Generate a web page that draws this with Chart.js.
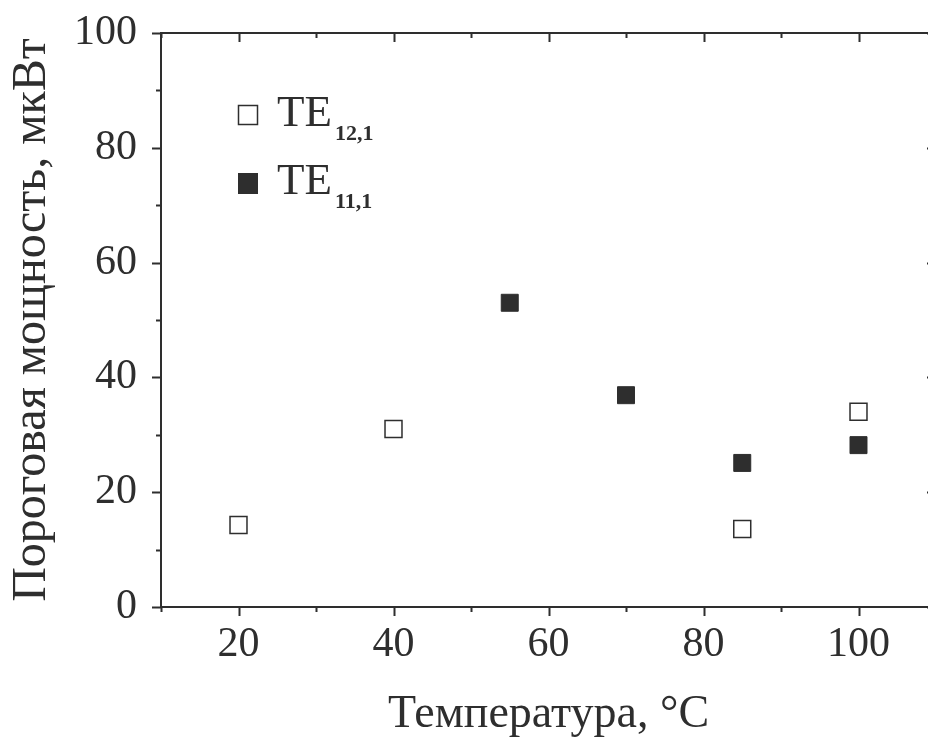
<!DOCTYPE html>
<html>
<head>
<meta charset="utf-8">
<title>Пороговая мощность</title>
<script src="https://cdn.jsdelivr.net/npm/chart.js@4.4.1/dist/chart.umd.min.js"></script>
<style>
    html, body { margin: 0; padding: 0; background: #fff; overflow: hidden; }
    #wrap { width: 928px; height: 740px; overflow: hidden; }
</style>
</head>
<body>
<div id="wrap">
    <canvas id="scatterChart" width="950" height="740"></canvas>
</div>
<script>
// Data
const seriesNames = ['TE', 'TE'];
const seriesSubs = ['12,1', '11,1'];
const te121Temps = [20, 40, 85, 100];
const te121Power = [14.3, 31.0, 13.6, 34.0];
const te111Temps = [55, 70, 85, 100];
const te111Power = [53.0, 36.9, 25.1, 28.2];
const xTickLabels = [20, 40, 60, 80, 100];
const yTickLabels = [0, 20, 40, 60, 80, 100];

const INK = '#2e2e2e';
const FONT = '"Liberation Serif", "Times New Roman", serif';

function toPoints(xs, ys) {
    return xs.map((x, i) => ({ x: x, y: ys[i] }));
}

// Frame, inner/outer tick marks and the legend with subscripts
const framePlugin = {
    id: 'frame',
    afterDraw(chart) {
        const ctx = chart.ctx;
        const area = chart.chartArea;
        const xs = chart.scales.x;
        const ys = chart.scales.y;
        ctx.save();
        ctx.strokeStyle = INK;
        ctx.lineWidth = 2;

        // top and right axis lines
        ctx.beginPath();
        ctx.moveTo(area.left, area.top);
        ctx.lineTo(area.right, area.top);
        ctx.lineTo(area.right, area.bottom);
        ctx.stroke();

        ctx.beginPath();
        xs.ticks.forEach((t) => {
            const px = Math.round(xs.getPixelForValue(t.value)) + 0.5;
            const len = xTickLabels.includes(t.value) ? 9 : 5;
            ctx.moveTo(px, area.bottom);
            ctx.lineTo(px, area.bottom + len);
            ctx.moveTo(px, area.top);
            ctx.lineTo(px, area.top + len);
        });
        ys.ticks.forEach((t) => {
            const py = Math.round(ys.getPixelForValue(t.value)) + 0.5;
            const len = yTickLabels.includes(t.value) ? 9 : 5;
            ctx.moveTo(area.left, py);
            ctx.lineTo(area.left - len, py);
            ctx.moveTo(area.right, py);
            ctx.lineTo(area.right - len, py);
        });
        ctx.stroke();

        // legend
        const rows = [115, 183];
        chart.data.datasets.forEach((ds, i) => {
            const cy = rows[i];
            const half = 10;
            if (ds.backgroundColor === '#ffffff') {
                ctx.fillStyle = '#ffffff';
                ctx.fillRect(248 - half, cy - half, half * 2, half * 2);
                ctx.lineWidth = 1.5;
                ctx.strokeRect(248 - half + 0.5, cy - half + 0.5, half * 2 - 1, half * 2 - 1);
            } else {
                ctx.fillStyle = INK;
                ctx.fillRect(248 - half, cy - half, half * 2, half * 2 + 1);
            }
            ctx.fillStyle = INK;
            ctx.textBaseline = 'alphabetic';
            ctx.textAlign = 'left';
            ctx.font = '45px ' + FONT;
            ctx.fillText(seriesNames[i], 277, cy + 11);
            const w = ctx.measureText(seriesNames[i]).width;
            ctx.font = 'bold 22px ' + FONT;
            ctx.fillText(seriesSubs[i], 277 + w + 3, cy + 25);
        });
        ctx.restore();
    }
};

const canvas = document.getElementById('scatterChart');
const chart = new Chart(canvas.getContext('2d'), {
    type: 'scatter',
    data: {
        datasets: [
            {
                label: 'TE12,1',
                data: toPoints(te121Temps, te121Power),
                pointStyle: 'rect',
                pointRadius: 12,
                pointHoverRadius: 12,
                backgroundColor: '#ffffff',
                borderColor: INK,
                borderWidth: 1.5,
            },
            {
                label: 'TE11,1',
                data: toPoints(te111Temps, te111Power),
                pointStyle: 'rect',
                pointRadius: 12,
                pointHoverRadius: 12,
                backgroundColor: INK,
                borderColor: INK,
                borderWidth: 1,
            },
        ],
    },
    options: {
        responsive: false,
        animation: false,
        layout: {
            padding: { left: 0, top: 33, right: 14, bottom: 0 },
        },
        plugins: {
            legend: { display: false },
            tooltip: { enabled: false },
        },
        scales: {
            x: {
                type: 'linear',
                min: 10,
                max: 110,
                afterFit(scale) {
                    scale.height = 133;
                    scale.paddingLeft = 0;
                    scale.paddingRight = 0;
                },
                border: { display: true, color: INK, width: 2 },
                grid: { display: false, drawTicks: false },
                ticks: {
                    stepSize: 10,
                    autoSkip: false,
                    maxRotation: 0,
                    padding: 13,
                    color: INK,
                    font: { family: FONT, size: 42 },
                    callback: (v) => (xTickLabels.includes(v) ? String(v) : ''),
                },
                title: {
                    display: true,
                    text: 'Температура, °C',
                    color: INK,
                    font: { family: FONT, size: 46 },
                    padding: { top: 0, bottom: -3 },
                },
            },
            y: {
                type: 'linear',
                min: 0,
                max: 100,
                afterFit(scale) {
                    scale.width = 161;
                    scale.paddingTop = 0;
                    scale.paddingBottom = 0;
                },
                border: { display: true, color: INK, width: 2 },
                grid: { display: false, drawTicks: false },
                ticks: {
                    stepSize: 10,
                    autoSkip: false,
                    padding: 24,
                    color: INK,
                    font: { family: FONT, size: 42 },
                    callback: (v) => (yTickLabels.includes(v) ? String(v) : ''),
                },
                title: {
                    display: true,
                    text: 'Пороговая мощность, мкВт',
                    color: INK,
                    font: { family: FONT, size: 48 },
                    padding: { top: 4, bottom: 0 },
                },
            },
        },
    },
    plugins: [framePlugin],
});
</script>
</body>
</html>
